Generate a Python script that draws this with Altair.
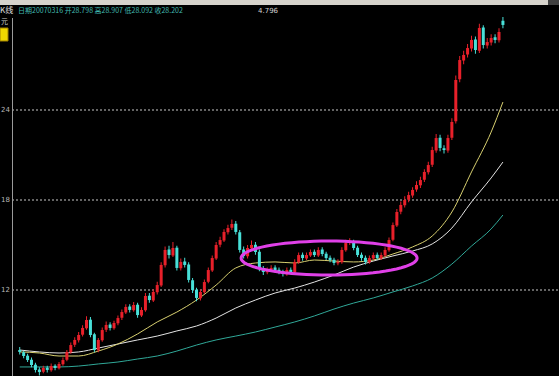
import math
import altair as alt
import pandas as pd

# ---------------- data ----------------
OPEN = [8.00,7.85,7.62,7.35,7.02,6.70,6.55,6.82,6.65,6.95,
        6.78,7.05,7.35,7.85,8.35,8.65,9.02,9.45,10.02,9.05,
        7.98,8.65,9.35,9.70,9.45,9.78,10.15,10.50,10.90,10.65,
        11.02,10.30,10.65,11.62,11.30,11.85,12.30,13.65,14.70,14.30,
        14.82,13.45,13.90,13.70,12.65,12.02,11.45,11.85,12.55,13.30,
        14.10,15.02,15.30,15.85,16.15,16.42,15.85,14.70,14.25,14.78,
        15.02,14.55,13.45,13.18,13.35,13.50,13.35,13.22,13.05,13.35,
        13.18,13.85,14.35,14.10,14.30,14.55,14.30,14.70,14.42,14.15,
        14.02,13.78,13.85,14.65,15.15,15.22,14.82,14.35,14.15,13.85,
        14.10,14.35,14.10,14.30,14.65,15.35,16.30,17.22,17.65,18.02,
        18.30,18.70,18.98,19.35,19.85,20.35,21.30,22.15,21.45,21.30,
        22.15,23.25,26.05,27.30,27.70,28.10,28.70,27.95,29.50,28.30,
        28.50,28.85,28.65,29.95]
CLOSE = [7.87,7.60,7.33,7.00,6.67,6.53,6.80,6.67,6.93,6.80,
         7.07,7.33,7.87,8.33,8.67,9.00,9.47,10.00,9.00,8.00,
         8.67,9.33,9.67,9.47,9.80,10.13,10.53,10.87,10.67,11.00,
         10.33,10.67,11.60,11.33,11.87,12.33,13.67,14.67,14.33,14.80,
         13.47,13.87,13.67,12.67,12.00,11.47,11.87,12.53,13.33,14.13,
         15.00,15.33,15.87,16.13,16.40,15.87,14.67,14.27,14.80,15.00,
         14.53,13.47,13.20,13.33,13.47,13.33,13.20,13.07,13.33,13.20,
         13.87,14.33,14.13,14.33,14.53,14.33,14.67,14.40,14.13,14.00,
         13.80,13.87,14.67,15.13,15.20,14.80,14.33,14.13,13.87,14.13,
         14.33,14.13,14.33,14.67,15.33,16.33,17.20,17.67,18.00,18.33,
         18.67,19.00,19.33,19.87,20.33,21.33,22.13,21.47,21.33,22.13,
         23.20,26.00,27.33,27.67,28.13,28.67,28.00,29.47,28.33,28.53,
         28.80,28.67,29.20,29.67]
HIGH = [8.20,7.95,7.75,7.50,7.15,6.85,6.95,6.95,7.10,7.05,
        7.20,7.50,8.00,8.50,8.85,9.20,9.65,10.25,10.20,9.15,
        8.80,9.50,9.90,9.85,9.95,10.30,10.70,11.05,11.05,11.20,
        11.15,10.85,11.80,11.80,12.05,12.55,13.85,14.90,14.95,15.20,
        14.95,14.10,14.15,13.85,12.80,12.15,12.05,12.70,13.50,14.30,
        15.20,15.55,16.05,16.35,16.70,16.60,16.00,14.90,15.00,15.30,
        15.20,14.70,13.60,13.50,13.65,13.65,13.50,13.35,13.50,13.50,
        14.05,14.50,14.50,14.50,14.70,14.70,14.85,14.85,14.55,14.30,
        14.15,14.05,14.85,15.35,15.45,15.35,14.95,14.50,14.30,14.30,
        14.50,14.50,14.50,14.85,15.50,16.50,17.40,17.90,18.25,18.55,
        18.85,19.25,19.55,20.05,20.55,21.55,22.40,22.35,21.65,22.35,
        23.45,26.30,27.60,27.95,28.40,28.95,28.90,29.75,29.65,28.80,
        29.05,29.05,29.45,30.20]
LOW = [7.70,7.45,7.20,6.85,6.50,6.30,6.45,6.50,6.55,6.65,
       6.70,6.95,7.25,7.75,8.20,8.50,8.90,9.35,8.85,7.85,
       7.85,8.55,9.20,9.30,9.35,9.65,10.00,10.40,10.50,10.55,
       10.15,10.20,10.55,11.15,11.20,11.70,12.20,13.50,14.10,14.20,
       13.30,13.30,13.50,12.50,11.80,11.25,11.30,11.75,12.45,13.20,
       14.00,14.85,15.20,15.70,16.00,15.70,14.50,14.10,14.10,14.65,
       14.35,13.25,13.00,13.05,13.20,13.15,13.05,12.90,12.95,13.05,
       13.10,13.75,13.95,14.00,14.20,14.20,14.20,14.25,14.00,13.85,
       13.65,13.65,13.75,14.55,15.00,14.65,14.20,13.95,13.70,13.75,
       14.00,14.00,14.00,14.20,14.55,15.25,16.20,17.05,17.50,17.85,
       18.15,18.55,18.80,19.20,19.70,20.20,21.15,21.25,21.10,21.15,
       22.00,23.10,25.85,27.05,27.50,27.90,27.75,27.80,28.10,28.10,
       28.30,28.45,28.50,29.45]

MA_IDX = [0,5,10,15,20,25,30,35,40,45,50,55,60,65,70,75,80,85,90,95,
          100,105,110,115,120,123]
MA_YELLOW = [7.87,7.80,7.60,7.60,7.93,8.40,9.07,9.87,10.53,11.33,12.33,13.47,13.80,
             13.87,13.80,14.00,13.93,13.87,14.00,14.40,14.87,15.60,17.20,19.87,22.53,24.53]
MA_WHITE = [8.00,7.87,7.80,7.87,8.13,8.40,8.67,8.93,9.27,9.60,10.13,10.80,11.33,
            11.80,12.13,12.53,13.00,13.53,13.93,14.27,14.60,15.07,16.13,17.87,19.47,20.53]
MA_TEAL = [6.87,6.87,6.87,6.93,7.07,7.20,7.40,7.60,7.93,8.33,8.67,8.93,9.20,
           9.53,9.87,10.27,10.73,11.13,11.47,11.87,12.27,12.80,13.73,14.93,16.07,17.00]

GRID_VALUES = [24, 18, 12]
GRID_LABELS = ["24", "18", "12"]

HEADER_LEFT = "K线"
HEADER_INFO = "日期20070316  开28.798  高28.907  低28.092  收28.202"
HEADER_RIGHT = "4.796"
CORNER_LABEL = "元"

HIGHLIGHT_I = [78.75]
HIGHLIGHT_P = [14.13]

# ---------------- styling ----------------
RED = "#e8202a"
CYAN = "#48e0d8"
YELLOW = "#d8d070"
WHITE = "#e4e4e4"
TEAL = "#30a898"
MAGENTA = "#e040e8"
GRID = "#c8c8c8"
FONT = "Noto Sans CJK SC"

W, H = 559, 376
x_scale = alt.Scale(domain=[-3.75, 136], nice=False, zero=False)
y_scale = alt.Scale(domain=[94 / 15, 470 / 15], nice=False, zero=False)

df = pd.DataFrame(dict(i=list(range(len(CLOSE))), open=OPEN, high=HIGH, low=LOW, close=CLOSE))
X = alt.X("i:Q", scale=x_scale, axis=None)
updown = alt.condition("datum.close >= datum.open", alt.value(RED), alt.value(CYAN))
one = alt.Data(values=[{"a": 1}])

bg_strip = alt.Chart(one).mark_rect(color="#d6d3cc").encode(
    x=alt.value(0), x2=alt.value(W), y=alt.value(0), y2=alt.value(5))
bg_strip_dark = alt.Chart(one).mark_rect(color="#404040").encode(
    x=alt.value(548), x2=alt.value(W), y=alt.value(0), y2=alt.value(5))

grid = alt.Chart(pd.DataFrame(dict(p=GRID_VALUES, t=GRID_LABELS))).mark_rule(
    color=GRID, strokeDash=[2, 2], strokeWidth=1).encode(
    x=alt.value(12), x2=alt.value(W), y=alt.Y("p:Q", scale=y_scale, axis=None))
grid_labels = alt.Chart(pd.DataFrame(dict(p=GRID_VALUES, t=GRID_LABELS))).mark_text(
    align="right", baseline="middle", fontSize=7, color="#b8b8b8", font="DejaVu Sans").encode(
    x=alt.value(10), y=alt.Y("p:Q", scale=y_scale, axis=None), text="t:N")

axis_line = alt.Chart(one).mark_rule(color="#9a9a9a", strokeWidth=1).encode(
    x=alt.value(12.5), y=alt.value(18), y2=alt.value(H))
corner = alt.Chart(one).mark_text(text=CORNER_LABEL, fontSize=7, color="#c8c8c8", font=FONT,
                                  align="left", baseline="middle").encode(
    x=alt.value(1), y=alt.value(22))
ybox = alt.Chart(one).mark_rect(color="#f0d800", stroke="#a08000", strokeWidth=1).encode(
    x=alt.value(0), x2=alt.value(8), y=alt.value(28), y2=alt.value(41))

ma_layers = []
for vals, col in [(MA_TEAL, TEAL), (MA_WHITE, WHITE), (MA_YELLOW, YELLOW)]:
    ma_layers.append(
        alt.Chart(pd.DataFrame(dict(i=MA_IDX, v=vals))).mark_line(
            color=col, strokeWidth=1, interpolate="monotone").encode(
            x=X, y=alt.Y("v:Q", scale=y_scale, axis=None)))

wicks = alt.Chart(df).mark_rule(strokeWidth=1).encode(
    x=X, y=alt.Y("low:Q", scale=y_scale, axis=None), y2="high:Q", color=updown)
bodies = alt.Chart(df).mark_bar(size=3).encode(
    x=X, y=alt.Y("open:Q", scale=y_scale, axis=None), y2="close:Q", color=updown)

# ellipse outline shape (unit path, flattened)
pts = []
ratio = 17 / 88
for k in range(73):
    t = 2 * math.pi * k / 72
    pts.append(f"{math.cos(t):.4f},{ratio * math.sin(t):.4f}")
ellipse_path = "M" + " L".join(pts) + " Z"
ellipse = alt.Chart(pd.DataFrame(dict(i=HIGHLIGHT_I, p=HIGHLIGHT_P))).mark_point(
    shape=ellipse_path, size=176 ** 2, filled=False, color=MAGENTA, strokeWidth=3, opacity=1).encode(
    x=X, y=alt.Y("p:Q", scale=y_scale, axis=None))

hdr_left = alt.Chart(one).mark_text(text=HEADER_LEFT, fontSize=8, color="#e0e0e0", font=FONT,
                                    align="left", baseline="middle").encode(
    x=alt.value(0), y=alt.value(11))
hdr_info = alt.Chart(one).mark_text(text=HEADER_INFO, fontSize=7, color="#40b8b0", font=FONT,
                                    align="left", baseline="middle").encode(
    x=alt.value(18), y=alt.value(11))
hdr_right = alt.Chart(one).mark_text(text=HEADER_RIGHT, fontSize=7, color="#d0d0d0", font="DejaVu Sans",
                                     align="left", baseline="middle").encode(
    x=alt.value(258), y=alt.value(11))

chart = alt.layer(
    bg_strip, bg_strip_dark, grid, grid_labels, axis_line, corner, ybox,
    *ma_layers, wicks, bodies, ellipse, hdr_left, hdr_info, hdr_right
).properties(
    width=W, height=H, background="black", padding=0, autosize="none"
).configure_view(strokeWidth=0, fill="black")

chart.save("out.html", embed_options={"renderer": "svg", "actions": False})
